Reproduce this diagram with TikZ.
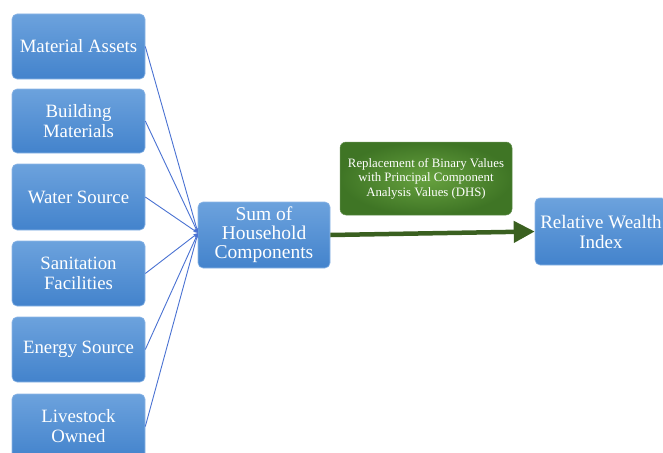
\documentclass[tikz,border=0pt]{standalone}
\usepackage{fontspec}
\setmainfont{Liberation Serif}
\usetikzlibrary{arrows.meta,shadings}
\definecolor{bluetop}{HTML}{6CA2DD}
\definecolor{bluebot}{HTML}{4383CC}
\definecolor{blueedge}{HTML}{8DB6E6}
\definecolor{linkblue}{HTML}{4A72D2}
\definecolor{greenin}{HTML}{67A23F}
\definecolor{greenout}{HTML}{3F7525}
\definecolor{arrowgreen}{HTML}{3A6020}
\tikzset{
  bluebox/.style={rounded corners=5pt, top color=bluetop, bottom color=bluebot, draw=blueedge, line width=0.6pt,
    minimum width=133pt, text=white, align=center, font=\fontsize{18.8}{20}\selectfont, inner sep=1pt},
  greenbox/.style={rounded corners=6pt, inner color=greenin, outer color=greenout, draw=greenout!80!white, line width=0.5pt,
    minimum width=172pt, minimum height=73pt, text=white, align=center, font=\fontsize{12.8}{15}\selectfont, inner sep=2pt},
  link/.style={draw=linkblue, line width=0.9pt, -{Stealth[length=5pt,width=3.5pt]}},
  bigarrow/.style={draw=arrowgreen, line width=4.5pt, -{Triangle[length=21pt,width=21pt]}}
}
\begin{document}
\begin{tikzpicture}[x=1pt,y=-1pt]
\useasboundingbox (0,0) rectangle (663,452);
\clip (0,0) rectangle (663,452);
\node[bluebox, minimum height=65pt] (a) at (78.5,46.5) {Material Assets};
\node[bluebox, minimum height=64pt] (b) at (78.5,121) {Building\\Materials};
\node[bluebox, minimum height=66pt] (c) at (78.5,197) {Water Source};
\node[bluebox, minimum height=65pt] (d) at (78.5,273.5) {Sanitation\\Facilities};
\node[bluebox, minimum height=65pt] (e) at (78.5,349.5) {Energy Source};
\node[bluebox, minimum height=65pt] (f) at (78.5,426.5) {Livestock\\Owned};
\node[bluebox, minimum width=132pt, minimum height=66pt, font=\fontsize{19.5}{19}\selectfont] (sum) at (264,235) {Sum of\\Household\\Components};
\node[greenbox] (g) at (426,178.5) {\raisebox{-6pt}{\shortstack{Replacement of Binary Values\\with Principal Component\\Analysis Values (DHS)}}};
\node[bluebox, minimum width=132pt, minimum height=67pt, font=\fontsize{19}{20}\selectfont] (rwi) at (601,231.5) {Relative Wealth\\Index};
\coordinate (conv) at (198,233);
\foreach \n in {a,b,c,d,e,f} \draw[link] (\n.east) -- (conv);
\draw[bigarrow] (sum.east) -- (rwi.west);
\end{tikzpicture}
\end{document}
